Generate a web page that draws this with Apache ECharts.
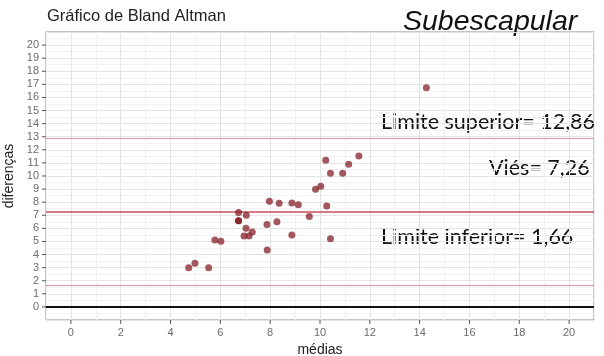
<!DOCTYPE html>
<html>
<head>
<meta charset="utf-8">
<script src="https://cdn.jsdelivr.net/npm/echarts@6/dist/echarts.min.js"></script>
<style>html,body{margin:0;padding:0;background:#fff}#c{width:604px;height:356px}</style>
</head>
<body>
<div id="c"></div>
<script>
// Data
const medias = [4.73, 4.98, 5.53, 5.78, 6.02, 6.73, 6.73, 6.73, 7.04, 7.03, 7.28, 6.95, 7.15, 7.87, 7.88, 7.97, 8.36, 8.27, 8.87, 9.13, 8.87, 9.57, 9.82, 10.03, 10.23, 10.27, 10.42, 10.42, 10.91, 11.15, 11.56, 14.27];
const diferencas = [3.00, 3.33, 3.00, 5.11, 5.01, 7.22, 6.58, 6.58, 7.01, 6.00, 5.72, 5.41, 5.41, 6.30, 4.34, 8.08, 7.91, 6.50, 7.93, 7.80, 5.49, 6.91, 8.99, 9.22, 11.20, 7.70, 10.21, 5.21, 10.21, 10.90, 11.53, 16.75];
const limiteSuperior = 12.86;
const vies = 7.26;
const limiteInferior = 1.66;
const yTickValues = [0,1,2,3,4,5,6,7,8,9,10,11,12,13,14,15,16,17,18,19,20];
const xTickValues = [0,2,4,6,8,10,12,14,16,18,20];
const axisMin = -1;
const axisMax = 21;

const chart = echarts.init(document.getElementById('c'), null, {renderer: 'canvas'});
const labelColor = '#6b6b6b';
const tickStyle = {stroke: '#555', lineWidth: 1};
chart.setOption({
  animation: false,
  backgroundColor: '#fff',
  grid: {left: 46, right: 10, top: 32, bottom: 36, show: true, borderColor: '#8c8c8c', borderWidth: 1, containLabel: false, outerBoundsMode: 'none'},
  xAxis: {
    type: 'value', min: axisMin, max: axisMax, interval: 1,
    name: 'médias', nameLocation: 'middle', nameGap: 22,
    nameTextStyle: {fontFamily: 'Liberation Sans', fontSize: 14, color: '#222'},
    axisLine: {show: false, onZero: false},
    axisTick: {show: false},
    axisLabel: {customValues: xTickValues, fontFamily: 'Liberation Sans', fontSize: 11, color: labelColor, margin: 7},
    splitLine: {show: true, lineStyle: {color: ['#f1f1f1', '#e4e4e4'], width: 1}}
  },
  yAxis: {
    type: 'value', min: axisMin, max: axisMax, interval: 1,
    name: 'diferenças', nameLocation: 'middle', nameGap: 29, nameRotate: 90,
    nameTextStyle: {fontFamily: 'Liberation Sans', fontSize: 14, color: '#222'},
    axisLine: {show: false, onZero: false},
    axisTick: {show: false},
    axisLabel: {customValues: yTickValues, fontFamily: 'Liberation Sans', fontSize: 11, color: labelColor, margin: 7},
    splitLine: {show: true, lineStyle: {color: '#e4e4e4', width: 1}},
    minorTick: {show: false, splitNumber: 2},
    minorSplitLine: {show: true, lineStyle: {color: '#f3f3f3', width: 1}}
  },
  series: [
    {
      type: 'line', data: [], silent: true,
      markLine: {
        silent: true, symbol: ['none', 'none'], label: {show: false}, animation: false,
        data: [
          {yAxis: 0, lineStyle: {color: '#111', width: 2, type: 'solid'}},
          {yAxis: limiteSuperior, lineStyle: {color: '#e0909c', width: 1, type: 'solid'}},
          {yAxis: vies, lineStyle: {color: '#c9505e', width: 1.5, type: 'solid'}},
          {yAxis: limiteInferior, lineStyle: {color: '#e0909c', width: 1, type: 'solid'}}
        ]
      }
    },
    {
      type: 'custom', clip: false, silent: true, z: 6,
      data: xTickValues.map(v => [v, axisMin]),
      renderItem: function (params, api) {
        const p = api.coord([api.value(0), axisMin]);
        return {type: 'line', shape: {x1: p[0], y1: p[1], x2: p[0], y2: p[1] + 4}, style: tickStyle};
      }
    },
    {
      type: 'custom', clip: false, silent: true, z: 6,
      data: yTickValues.map(v => [axisMin, v]),
      renderItem: function (params, api) {
        const p = api.coord([axisMin, api.value(1)]);
        return {type: 'line', shape: {x1: p[0] - 4, y1: p[1], x2: p[0], y2: p[1]}, style: tickStyle};
      }
    },
    {
      type: 'scatter', z: 5,
      data: medias.map((m, i) => [m, diferencas[i]]),
      symbolSize: 7,
      itemStyle: {color: 'rgb(128,22,32)', opacity: 0.72}
    }
  ],
  graphic: [
    {type: 'text', x: 47, y: 16, style: {text: 'Gráfico de Bland Altman', font: '16.5px "Liberation Sans"', fill: '#222', verticalAlign: 'middle'}},
    {type: 'text', x: 403, y: 22, style: {text: 'Subescapular', font: 'italic 28.5px "Liberation Sans"', fill: '#111', verticalAlign: 'middle'}},
    {type: 'text', x: 381, y: 122, style: {text: 'Limite superior= 12,86', font: '21.5px Lato', fill: '#111', verticalAlign: 'middle'}},
    {type: 'text', x: 489, y: 168, style: {text: 'Viés= 7,26', font: '21.5px Lato', fill: '#111', verticalAlign: 'middle'}},
    {type: 'text', x: 381, y: 237, style: {text: 'Limite inferior= 1,66', font: '21.5px Lato', fill: '#111', verticalAlign: 'middle'}}
  ]
});
</script>
</body>
</html>
